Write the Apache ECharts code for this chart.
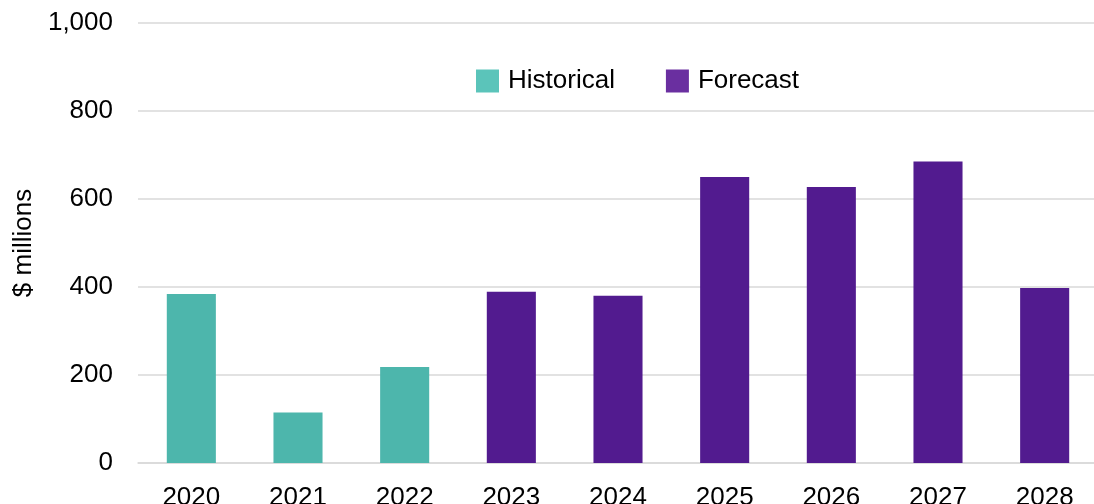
<!DOCTYPE html>
<html><head><meta charset="utf-8">
<script src="https://cdn.jsdelivr.net/npm/echarts@6/dist/echarts.min.js"></script>
<style>html,body{margin:0;padding:0;background:#fff;overflow:hidden}#c{width:1094px;height:504px}</style>
</head><body><div id="c"></div>
<script>
const categories = ['2020','2021','2022','2023','2024','2025','2026','2027','2028'];
const historical = [384, 115, 218, null, null, null, null, null, null];
const forecast = [null, null, null, 389, 380, 650, 627, 685, 398];
const yTicks = { min: 0, max: 1000, interval: 200 };

const chart = echarts.init(document.getElementById('c'), null, {renderer: 'canvas'});
const font = 'Liberation Sans, Arial, sans-serif';
chart.setOption({
  animation: false,
  backgroundColor: '#fff',
  grid: { left: 138, right: -4, top: 23, bottom: 41, containLabel: false, outerBoundsMode: 'none' },
  legend: {
    top: 63, left: 471,
    itemWidth: 23, itemHeight: 23, itemGap: 51,
    icon: 'rect',
    textStyle: { fontFamily: font, fontSize: 26, color: '#000', padding: [0,0,0,4] },
    data: [
      { name: 'Historical', itemStyle: { color: '#5BC4BA' } },
      { name: 'Forecast', itemStyle: { color: '#6A2FA0' } }
    ]
  },
  xAxis: {
    type: 'category', data: categories,
    axisLine: { show: true, lineStyle: { color: '#d9d9d9', width: 1.5 } },
    axisTick: { show: false },
    axisLabel: { fontFamily: font, fontSize: 26, color: '#000', margin: 22 }
  },
  yAxis: {
    type: 'value', min: yTicks.min, max: yTicks.max, interval: yTicks.interval,
    name: '$ millions', nameLocation: 'middle', nameGap: 95,
    nameTextStyle: { fontFamily: font, fontSize: 26, color: '#000' },
    axisLine: { show: false }, axisTick: { show: false },
    axisLabel: { fontFamily: font, fontSize: 26, color: '#000', margin: 25,
      formatter: v => v.toLocaleString('en-US') },
    splitLine: { lineStyle: { color: '#d9d9d9', width: 1.5 } }
  },
  series: [
    { name: 'Historical', type: 'bar', stack: 's', data: historical, barWidth: '46%',
      itemStyle: { color: '#4DB6AC' } },
    { name: 'Forecast', type: 'bar', stack: 's', data: forecast, barWidth: '46%',
      itemStyle: { color: '#521B8F' } }
  ]
});
</script></body></html>
